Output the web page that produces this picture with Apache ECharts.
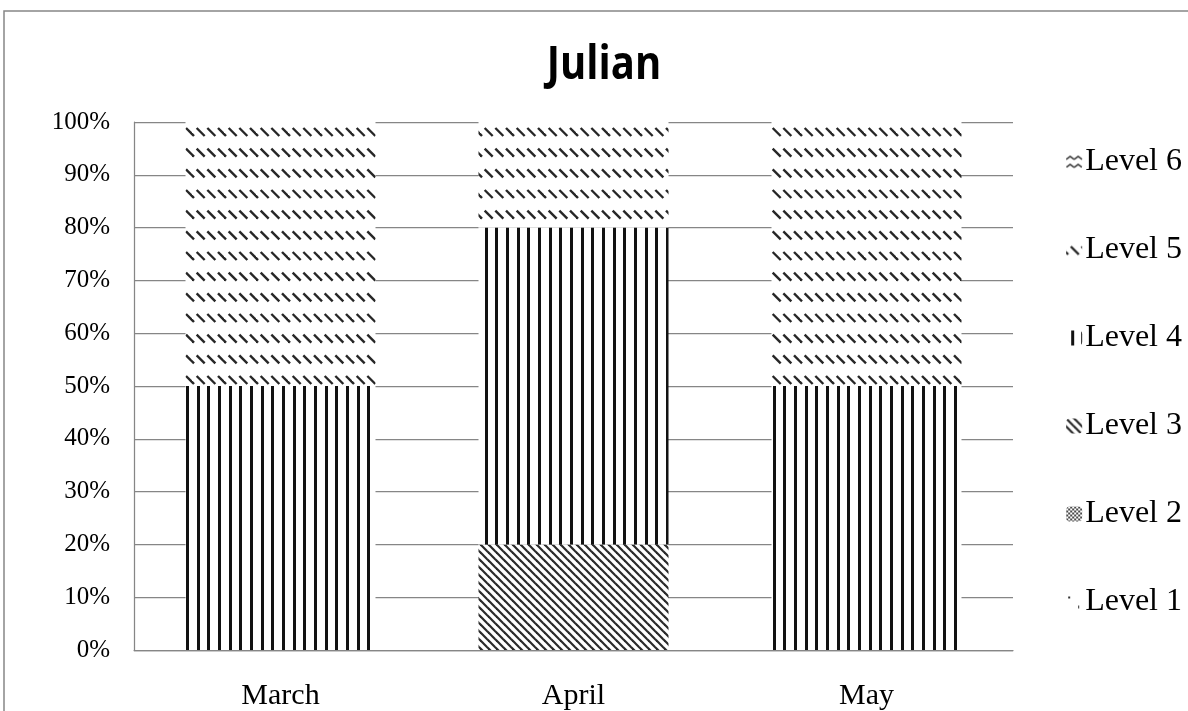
<!DOCTYPE html>
<html>
<head>
<meta charset="utf-8">
<style>
  html, body { margin: 0; padding: 0; background: #ffffff; }
  #chart { width: 1188px; height: 711px; }
</style>
<script src="https://cdn.jsdelivr.net/npm/echarts@6/dist/echarts.min.js"></script>
</head>
<body>
<div id="chart"></div>
<script>
// Monthly level shares for Julian (percent of each month)
const months = ['March', 'April', 'May'];
const level1 = [0, 0, 0];
const level2 = [0, 0, 0];
const level3 = [0, 20, 0];
const level4 = [50, 60, 50];
const level5 = [50, 20, 50];
const level6 = [0, 0, 0];
const levelNames = ['Level 1', 'Level 2', 'Level 3', 'Level 4', 'Level 5', 'Level 6'];
const chartTitle = 'Julian';

// ---- hatch fills drawn on small canvases (anchored to the page canvas origin) ----
function tile(w, h, draw) {
  const c = document.createElement('canvas');
  c.width = w; c.height = h;
  const g = c.getContext('2d');
  g.fillStyle = '#ffffff';
  g.fillRect(0, 0, w, h);
  draw(g, w, h);
  return { image: c, repeat: 'repeat' };
}

// sparse dots
const fillDots = tile(16, 16, (g) => {
  g.fillStyle = '#333';
  g.fillRect(2, 2, 2, 2);
  g.fillRect(12, 11, 1, 3);
});

// dense checker
const fillChecker = tile(4, 4, (g) => {
  g.fillStyle = '#4a4a4a';
  g.fillRect(0, 0, 2, 2);
  g.fillRect(2, 2, 2, 2);
});

// downward diagonal lines
const fillDiagonal = tile(8, 8, (g) => {
  g.strokeStyle = '#2a2a2a';
  g.lineWidth = 2.2;
  for (let k = -1; k <= 1; k++) {
    g.beginPath();
    g.moveTo(k * 8 - 2, -2);
    g.lineTo(k * 8 + 10, 10);
    g.stroke();
  }
});

// vertical lines, period 32/3 px
const fillVertical = tile(32, 4, (g) => {
  g.fillStyle = '#111';
  [4.67, 15.33, 26].forEach((x) => g.fillRect(Math.round(x), 0, 3, 4));
});

// rows of short diagonal dashes, period 32/3 px across and 62/3 px down
const fillDashes = tile(32, 62, (g) => {
  g.strokeStyle = '#262626';
  g.lineWidth = 2.4;
  g.lineCap = 'butt';
  for (let r = 0; r < 3; r++) {
    const y = 4 + r * 20.67;
    for (let i = -1; i < 3; i++) {
      const x = 4.67 + i * 10.67;
      g.beginPath();
      g.moveTo(x, y);
      g.lineTo(x + 8, y + 8);
      g.stroke();
    }
  }
});

// small zigzag waves
const fillWaves = tile(8, 8, (g) => {
  g.strokeStyle = '#333';
  g.lineWidth = 1.5;
  g.beginPath();
  g.moveTo(0, 5); g.lineTo(4, 2); g.lineTo(8, 5);
  g.stroke();
});

const fills = [fillDots, fillChecker, fillDiagonal, fillVertical, fillDashes, fillWaves];
const values = [level1, level2, level3, level4, level5, level6];

const serif = '"Liberation Serif", "Times New Roman", serif';
const grey = '#868686';

const series = levelNames.map((name, i) => ({
  name: name,
  type: 'bar',
  stack: 'total',
  barWidth: 190,
  data: values[i],
  itemStyle: { color: fills[i] },
  emphasis: { disabled: true }
}));

const chart = echarts.init(document.getElementById('chart'), null, { renderer: 'canvas' });
chart.setOption({
  animation: false,
  backgroundColor: '#ffffff',
  graphic: [
    {
      type: 'rect',
      shape: { x: 4, y: 11, width: 1300, height: 800 },
      style: { fill: 'none', stroke: grey, lineWidth: 1.5 },
      silent: true
    },
    {
      type: 'text',
      x: 604, y: 66,
      scaleY: 1.15,
      style: {
        text: chartTitle,
        font: 'bold 40px "Open Sans", "Liberation Sans", sans-serif',
        fill: '#000',
        textAlign: 'center',
        textVerticalAlign: 'middle'
      },
      silent: true
    }
  ],
  grid: { left: 134, right: 175, top: 122, bottom: 59, containLabel: false },
  legend: {
    orient: 'vertical',
    right: 1,
    top: 141,
    itemGap: 56,
    itemWidth: 16,
    itemHeight: 15,
    data: levelNames.slice().reverse(),
    textStyle: { fontFamily: serif, fontSize: 32, color: '#000', padding: [0, 0, 0, -2] },
    selectedMode: false
  },
  xAxis: {
    type: 'category',
    data: months,
    axisLine: { show: true, lineStyle: { color: grey, width: 1.25 } },
    axisTick: { show: false },
    axisLabel: { fontFamily: serif, fontSize: 30, color: '#000', margin: 31 }
  },
  yAxis: {
    type: 'value',
    min: 0,
    max: 100,
    interval: 10,
    axisLine: { show: true, lineStyle: { color: grey, width: 1.25 } },
    axisTick: { show: false },
    splitLine: { show: true, lineStyle: { color: grey, width: 1.25 } },
    axisLabel: { formatter: '{value}%', fontFamily: serif, fontSize: 25, color: '#000', margin: 24 }
  },
  series: series
});
</script>
</body>
</html>
